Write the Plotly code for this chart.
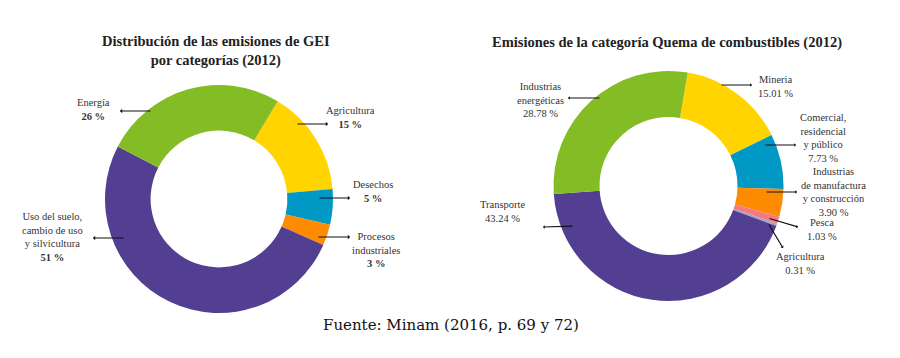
import plotly.graph_objects as go

W, H = 900, 358

# ---- Data ----
cats_gei = ["Agricultura", "Desechos", "Procesos industriales",
            "Uso del suelo, cambio de uso y silvicultura", "Energía"]
vals_gei = [15, 5, 3, 51, 26]
cols_gei = ["#FFD400", "#0098C4", "#FF8C00", "#533F92", "#84BC26"]
lbl_gei = ["Agricultura", "Desechos", "Procesos<br>industriales",
           "Uso del suelo,<br>cambio de uso<br>y silvicultura", "Energía"]

cats_qc = ["Minería", "Comercial, residencial y público",
           "Industrias de manufactura y construcción", "Pesca", "Agricultura",
           "Transporte", "Industrias energéticas"]
vals_qc = [15.01, 7.73, 3.90, 1.03, 0.31, 43.24, 28.78]
cols_qc = ["#FFD400", "#0098C4", "#FF8C00", "#F47A80", "#A3A3C8", "#533F92", "#84BC26"]
lbl_qc = ["Mineria", "Comercial,<br>residencial<br>y público",
          "Industrias<br>de manufactura<br>y construcción", "Pesca", "Agricultura",
          "Transporte", "Industrias<br>energéticas"]

title_gei = "Distribución de las emisiones de GEI<br>por categorías (2012)"
title_qc = "Emisiones de la categoría Quema de combustibles (2012)"
source = "Fuente: Minam (2016, p. 69 y 72)"

# ---- Layout helpers (pixel positions) ----
def px(x):
    return x / W

def py(y):
    return 1 - y / H

def dom(cx, cy, r):
    return dict(x=[px(cx - r), px(cx + r)], y=[py(cy + r), py(cy - r)])

SERIF = "Liberation Serif"
TXT = "#333333"
LFS = 10.5

fig = go.Figure()
fig.add_trace(go.Pie(
    labels=cats_gei, values=vals_gei, sort=False, direction="clockwise",
    rotation=31, hole=0.6, marker=dict(colors=cols_gei, line=dict(width=0)),
    textinfo="none", hoverinfo="label+percent", domain=dom(219, 199, 114),
    showlegend=False))
fig.add_trace(go.Pie(
    labels=cats_qc, values=vals_qc, sort=False, direction="clockwise",
    rotation=9.6, hole=0.6, marker=dict(colors=cols_qc, line=dict(width=0)),
    textinfo="none", hoverinfo="label+percent", domain=dom(668.5, 186, 115),
    showlegend=False))

annotations = []

# label text centers and arrow (head at label side, tail in slice)
pos_gei = [  # text center x, y ; arrow head (x,y) ; arrow tail (x,y)
    (350, 117, (328, 124), (296, 124)),
    (373, 191, (350, 198), (318, 198)),
    (376, 250, (350, 237), (317, 237)),
    (52, 237, (93, 238), (125, 238)),
    (93, 109, (120, 111), (152, 111)),
]
for name, v, (tx, ty, head, tail) in zip(lbl_gei, vals_gei, pos_gei):
    annotations.append(dict(
        text=f"{name}<br><b>{v} %</b>", x=px(tx), y=py(ty), xref="paper", yref="paper",
        showarrow=False, xanchor="center", yanchor="middle", align="center",
        font=dict(family=SERIF, size=LFS, color=TXT)))
    annotations.append(dict(
        text="", x=px(head[0]), y=py(head[1]), xref="paper", yref="paper",
        ax=tail[0] - head[0], ay=tail[1] - head[1], showarrow=True,
        arrowhead=1, arrowsize=0.6, arrowwidth=1.2, arrowcolor="#111111"))

pos_qc = [
    (775, 86, (752, 85), (720, 85)),
    (823, 138, (796, 145), (764, 145)),
    (833, 192, (797, 192), (765, 192)),
    (822, 229, (798, 227), (768, 218)),
    (800, 263, (783, 248), (768, 223)),
    (502, 211, (543, 227), (574, 226)),
    (540, 100, (568, 98), (601, 98)),
]
for name, v, (tx, ty, head, tail) in zip(lbl_qc, vals_qc, pos_qc):
    annotations.append(dict(
        text=f"{name}<br>{v:.2f} %", x=px(tx), y=py(ty), xref="paper", yref="paper",
        showarrow=False, xanchor="center", yanchor="middle", align="center",
        font=dict(family=SERIF, size=LFS, color=TXT)))
    annotations.append(dict(
        text="", x=px(head[0]), y=py(head[1]), xref="paper", yref="paper",
        ax=tail[0] - head[0], ay=tail[1] - head[1], showarrow=True,
        arrowhead=1, arrowsize=0.5, arrowwidth=1.2, arrowcolor="#111111"))

annotations.append(dict(
    text=f"<b>{title_gei}</b>", x=px(216), y=py(51), xref="paper", yref="paper",
    showarrow=False, xanchor="center", yanchor="middle", align="center",
    font=dict(family=SERIF, size=14.5, color="#222222")))
annotations.append(dict(
    text=f"<b>{title_qc}</b>", x=px(667), y=py(42), xref="paper", yref="paper",
    showarrow=False, xanchor="center", yanchor="middle", align="center",
    font=dict(family=SERIF, size=14.5, color="#222222")))
annotations.append(dict(
    text=source, x=px(451), y=py(325), xref="paper", yref="paper",
    showarrow=False, xanchor="center", yanchor="middle",
    font=dict(family="DejaVu Serif", size=15, color="#111111")))

fig.update_layout(
    width=W, height=H, margin=dict(l=0, r=0, t=0, b=0),
    paper_bgcolor="white", plot_bgcolor="white",
    annotations=annotations, showlegend=False)

fig.write_html("out.html", config={"displayModeBar": False},
               post_script="document.body.style.margin='0';document.body.style.padding='0';")
